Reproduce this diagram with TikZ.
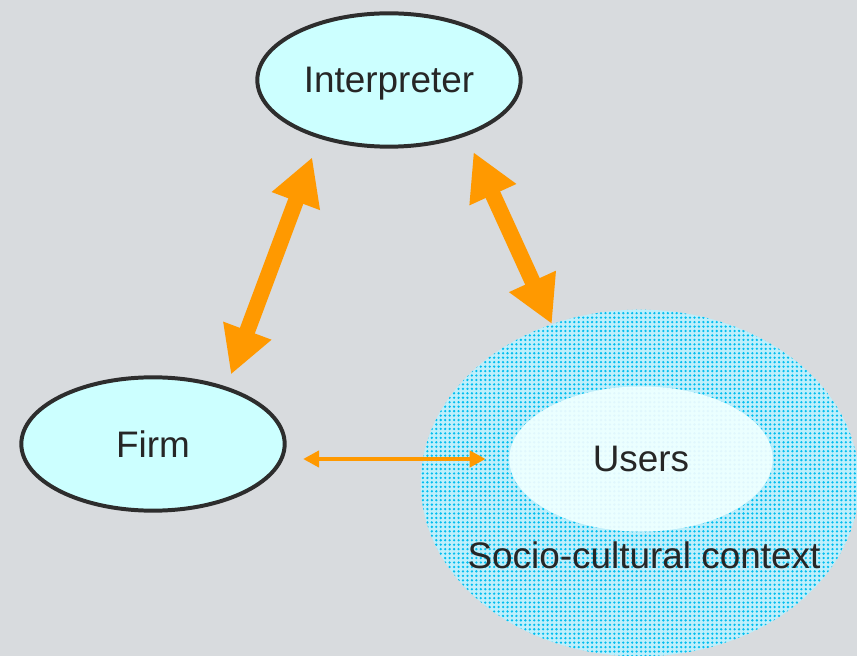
\documentclass[tikz,border=0pt]{standalone}
\usepackage{fontspec}
\setmainfont{Liberation Sans}
\usetikzlibrary{arrows.meta, shapes.geometric, patterns.meta}

\definecolor{slidegray}{RGB}{216,219,222}
\definecolor{palecyan}{RGB}{204,255,255}
\definecolor{edgedark}{RGB}{45,45,45}
\definecolor{arroworange}{RGB}{255,153,0}
\definecolor{dotcyan}{RGB}{0,190,240}

\begin{document}
\begin{tikzpicture}[x=0.03cm, y=-0.03cm,
    bigtext/.style={font=\fontsize{31.5}{36}\selectfont, text=black!85},
    actor/.style={ellipse, draw=edgedark, line width=3.4pt, fill=palecyan,
        minimum width=7.9cm, minimum height=4cm, inner sep=0pt, bigtext},
    dotfill/.style={pattern={Dots[distance=3.8pt, radius=1.1pt]}},
    bigarrow/.style={arroworange, line width=13.6pt,
        {Triangle[length=40pt,width=41pt]}-{Triangle[length=40pt,width=41pt]}},
    smallarrow/.style={arroworange, line width=4.2pt,
        {Triangle[length=13.6pt,width=13.6pt]}-{Triangle[length=13.6pt,width=13.6pt]}}]

    % background
    \path[use as bounding box, fill=slidegray] (0,0) rectangle (857,656);
    \clip (0,0) rectangle (857,656);

    % context and users
    \node[ellipse, minimum width=13.15cm, minimum height=10.4cm,
        preaction={fill=white!75!dotcyan}, dotfill, pattern color=dotcyan]
        (context) at (640,483) {};
    \node[ellipse, minimum width=7.9cm, minimum height=4.35cm,
        preaction={fill=palecyan!40!white}, dotfill,
        pattern color=dotcyan!12, bigtext] (users) at (641,459) {Users};
    \node[bigtext] (ctxlabel) at (644,555) {Socio-cultural context};

    % actors
    \node[actor, text depth=0pt] (interp) at (389,80) {Interpreter};
    \node[actor] (firm) at (153,444) {Firm};

    % arrows
    \draw[bigarrow, shorten <=11, shorten >=17] (firm.38) -- (interp.220);
    \draw[bigarrow, shorten <=15] (interp.-36) -- (context.119);
    \draw[smallarrow, shorten <=14pt, shorten >=20pt] (users.west -| firm.east) -- (users.west);
\end{tikzpicture}
\end{document}
